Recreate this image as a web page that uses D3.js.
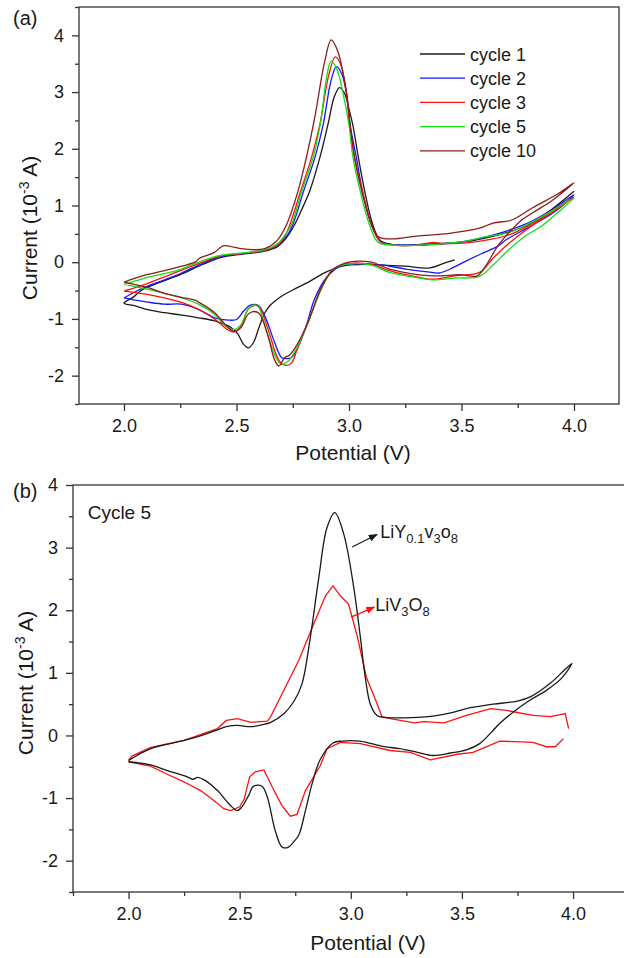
<!DOCTYPE html>
<html>
<head>
<meta charset="utf-8">
<script src="https://cdn.jsdelivr.net/npm/d3@7"></script>
<style>
    body { margin: 0; background: #fff; }
    svg text { font-family: "Liberation Sans", Arial, sans-serif; fill: #1a1a1a; }
</style>
</head>
<body>
<div id="chart"></div>
<script>
// ---- data (potential V, current 10^-3 A) ----

const potentialTicks = [2.0, 2.5, 3.0, 3.5, 4.0];
const potentialMinorA = [2.25, 2.75, 3.25, 3.75];
const potentialMinorB = [1.75, 2.25, 2.75, 3.25, 3.75];
const currentTicks = [-2, -1, 0, 1, 2, 3, 4];
const currentMinorA = [-2.5, -1.5, -0.5, 0.5, 1.5, 2.5, 3.5, 4.5];
const currentMinorB = [-2.5, -1.5, -0.5, 0.5, 1.5, 2.5, 3.5];

const cycleLabels = ["cycle 1", "cycle 2", "cycle 3", "cycle 5", "cycle 10"];

const cycle1 = [[3.47,0.04],[3.42,-0.02],[3.36,-0.10],[3.25,-0.07],[3.15,-0.05],[3.05,-0.04],[2.98,-0.06],[2.9,-0.17],[2.82,-0.35],[2.75,-0.49],[2.7,-0.6],[2.65,-0.76],[2.625,-0.9],[2.6,-1.15],[2.575,-1.42],[2.553,-1.51],[2.53,-1.44],[2.505,-1.26],[2.475,-1.15],[2.45,-1.1],[2.4,-1.03],[2.33,-0.98],[2.25,-0.93],[2.18,-0.89],[2.11,-0.84],[2.05,-0.77],[2.0,-0.72],
    [2.04,-0.62],[2.08,-0.49],[2.15,-0.37],[2.25,-0.22],[2.35,-0.04],[2.43,0.08],[2.52,0.14],[2.62,0.19],[2.68,0.27],[2.72,0.42],[2.758,0.66],[2.79,0.93],[2.825,1.25],[2.87,1.84],[2.906,2.42],[2.935,2.92],[2.958,3.08],[2.98,2.98],[3.0,2.7],[3.017,2.42],[3.042,1.84],[3.07,1.25],[3.106,0.66],[3.14,0.38],[3.2,0.31],[3.3,0.30],[3.4,0.32],[3.5,0.35],[3.6,0.42],[3.7,0.52],[3.8,0.67],[3.9,0.93],[4.0,1.25]];

const cycle2 = [[2.0,-0.63],[2.05,-0.52],[2.1,-0.43],[2.18,-0.31],[2.256,-0.19],[2.35,-0.02],[2.43,0.10],[2.52,0.15],[2.626,0.21],[2.68,0.29],[2.72,0.44],[2.75,0.66],[2.798,1.25],[2.848,1.84],[2.885,2.42],[2.92,3.2],[2.944,3.45],[2.968,3.32],[2.99,2.95],[3.005,2.42],[3.033,1.84],[3.06,1.25],[3.10,0.66],[3.14,0.36],[3.2,0.31],[3.3,0.31],[3.4,0.33],[3.5,0.36],[3.6,0.44],[3.7,0.55],[3.8,0.7],[3.9,0.92],[4.0,1.19],
    [3.95,1.0],[3.9,0.85],[3.8,0.62],[3.7,0.40],[3.66,0.28],[3.6,0.17],[3.52,0.02],[3.45,-0.12],[3.40,-0.19],[3.35,-0.17],[3.25,-0.12],[3.15,-0.05],[3.05,-0.03],[2.97,-0.05],[2.9,-0.27],[2.847,-0.65],[2.81,-1.12],[2.77,-1.53],[2.744,-1.68],[2.72,-1.70],[2.70,-1.68],[2.67,-1.42],[2.626,-0.95],[2.596,-0.76],[2.559,-0.76],[2.53,-0.87],[2.5,-1.01],[2.463,-1.02],[2.403,-0.98],[2.33,-0.83],[2.256,-0.74],[2.18,-0.74],[2.1,-0.70],[2.05,-0.67],[2.0,-0.63]];

const cycle3 = [[2.0,-0.51],[2.05,-0.45],[2.1,-0.38],[2.18,-0.26],[2.256,-0.14],[2.35,0.0],[2.43,0.11],[2.52,0.15],[2.626,0.21],[2.68,0.3],[2.71,0.42],[2.737,0.66],[2.785,1.25],[2.833,1.84],[2.87,2.42],[2.91,3.3],[2.939,3.62],[2.962,3.5],[2.988,3.0],[3.003,2.42],[3.025,1.84],[3.06,1.25],[3.10,0.66],[3.14,0.36],[3.2,0.30],[3.3,0.30],[3.37,0.35],[3.42,0.33],[3.52,0.34],[3.61,0.39],[3.71,0.48],[3.8,0.65],[3.9,0.9],[4.0,1.15],
    [3.92,0.92],[3.84,0.72],[3.77,0.52],[3.71,0.33],[3.64,0.07],[3.58,-0.18],[3.47,-0.24],[3.37,-0.30],[3.3,-0.26],[3.18,-0.15],[3.1,-0.04],[3.0,-0.02],[2.93,-0.12],[2.877,-0.47],[2.818,-1.06],[2.77,-1.53],[2.744,-1.78],[2.72,-1.82],[2.69,-1.74],[2.64,-1.18],[2.60,-0.78],[2.58,-0.76],[2.551,-0.83],[2.52,-1.13],[2.49,-1.23],[2.465,-1.2],[2.403,-1.0],[2.33,-0.83],[2.256,-0.71],[2.18,-0.63],[2.108,-0.57],[2.0,-0.51]];

const cycle5 = [[2.0,-0.39],[2.05,-0.33],[2.1,-0.27],[2.18,-0.2],[2.256,-0.12],[2.35,0.03],[2.43,0.12],[2.52,0.16],[2.626,0.22],[2.68,0.32],[2.71,0.45],[2.744,0.66],[2.79,1.25],[2.84,1.84],[2.875,2.5],[2.90,3.25],[2.921,3.55],[2.948,3.38],[2.975,2.95],[3.0,2.42],[3.018,1.84],[3.05,1.25],[3.091,0.66],[3.13,0.35],[3.2,0.30],[3.3,0.30],[3.4,0.32],[3.52,0.37],[3.61,0.45],[3.71,0.52],[3.8,0.68],[3.9,0.9],[4.0,1.13],
    [3.92,0.85],[3.85,0.62],[3.79,0.48],[3.71,0.22],[3.64,-0.05],[3.58,-0.25],[3.47,-0.28],[3.37,-0.31],[3.3,-0.27],[3.18,-0.18],[3.1,-0.05],[3.0,-0.03],[2.93,-0.12],[2.877,-0.47],[2.818,-1.06],[2.77,-1.5],[2.73,-1.74],[2.70,-1.80],[2.675,-1.68],[2.625,-1.1],[2.596,-0.78],[2.57,-0.76],[2.551,-0.83],[2.52,-1.10],[2.487,-1.19],[2.45,-1.12],[2.403,-0.92],[2.33,-0.74],[2.256,-0.63],[2.18,-0.55],[2.108,-0.48],[2.0,-0.39]];

const cycle10 = [[2.0,-0.35],[2.05,-0.28],[2.1,-0.22],[2.18,-0.15],[2.256,-0.07],[2.32,0.01],[2.335,0.07],[2.4,0.17],[2.44,0.29],[2.47,0.28],[2.52,0.24],[2.58,0.22],[2.626,0.24],[2.68,0.38],[2.722,0.66],[2.773,1.25],[2.81,1.84],[2.85,2.6],[2.89,3.5],[2.921,3.92],[2.95,3.72],[2.988,3.01],[3.005,2.42],[3.025,1.84],[3.06,1.2],[3.10,0.66],[3.13,0.45],[3.19,0.41],[3.30,0.46],[3.446,0.51],[3.58,0.60],[3.64,0.69],[3.72,0.74],[3.816,0.96],[3.934,1.22],[4.0,1.40],
    [3.9,1.08],[3.82,0.88],[3.76,0.72],[3.72,0.56],[3.66,0.28],[3.61,-0.05],[3.57,-0.24],[3.49,-0.22],[3.37,-0.24],[3.18,-0.12],[3.1,0.0],[3.0,0.0],[2.93,-0.13],[2.877,-0.45],[2.818,-1.06],[2.77,-1.45],[2.735,-1.64],[2.715,-1.68],[2.688,-1.83],[2.668,-1.71],[2.64,-1.30],[2.60,-0.9],[2.574,-0.87],[2.551,-0.92],[2.52,-1.15],[2.487,-1.22],[2.45,-1.1],[2.403,-0.89],[2.33,-0.70],[2.315,-0.67],[2.256,-0.62],[2.18,-0.55],[2.108,-0.45],[2.0,-0.35]];

// panel (b), cycle 5 of both materials
const yDopedCycle5 = [[2.0,-0.40],[2.1,-0.21],[2.25,-0.08],[2.33,0.0],[2.4,0.09],[2.44,0.14],[2.49,0.16],[2.55,0.14],[2.6,0.17],[2.64,0.21],[2.7,0.35],[2.745,0.55],[2.78,0.82],[2.818,1.57],[2.856,2.52],[2.893,3.32],[2.928,3.56],[2.968,3.22],[3.013,2.37],[3.043,1.57],[3.065,0.93],[3.088,0.5],[3.118,0.32],[3.15,0.29],[3.3,0.29],[3.37,0.31],[3.45,0.36],[3.52,0.43],[3.64,0.5],[3.75,0.55],[3.81,0.62],[3.9,0.84],[3.96,1.04],[3.995,1.15],
    [3.95,0.92],[3.88,0.72],[3.8,0.55],[3.73,0.37],[3.67,0.19],[3.64,0.08],[3.58,-0.13],[3.52,-0.23],[3.45,-0.28],[3.37,-0.32],[3.3,-0.27],[3.22,-0.21],[3.15,-0.18],[3.04,-0.09],[2.96,-0.09],[2.92,-0.12],[2.863,-0.38],[2.826,-0.77],[2.796,-1.20],[2.766,-1.59],[2.743,-1.70],[2.715,-1.79],[2.69,-1.78],[2.66,-1.52],[2.624,-0.98],[2.60,-0.81],[2.563,-0.81],[2.54,-0.96],[2.51,-1.14],[2.489,-1.20],[2.459,-1.12],[2.40,-0.88],[2.34,-0.71],[2.31,-0.67],[2.29,-0.70],[2.264,-0.66],[2.174,-0.56],[2.099,-0.47],[2.0,-0.42]];

// the reference trace has a break at the 4 V end (null = gap)
const pureCycle5 = [[2.0,-0.40],[2.015,-0.33],[2.1,-0.19],[2.25,-0.08],[2.33,0.02],[2.40,0.11],[2.44,0.24],[2.49,0.27],[2.55,0.21],[2.624,0.23],[2.638,0.29],[2.683,0.61],[2.766,1.20],[2.833,1.78],[2.886,2.23],[2.92,2.39],[2.953,2.23],[2.99,2.10],[3.03,1.57],[3.07,0.93],[3.118,0.51],[3.14,0.30],[3.19,0.26],[3.286,0.20],[3.33,0.22],[3.42,0.20],[3.52,0.32],[3.63,0.43],[3.7,0.40],[3.82,0.32],[3.90,0.30],[3.965,0.35],[3.98,0.11],
    null,
    [3.957,-0.05],[3.92,-0.18],[3.88,-0.18],[3.82,-0.11],[3.67,-0.09],[3.55,-0.27],[3.48,-0.30],[3.358,-0.39],[3.268,-0.27],[3.178,-0.24],[3.043,-0.13],[2.953,-0.11],[2.893,-0.21],[2.863,-0.48],[2.833,-0.66],[2.796,-0.88],[2.758,-1.26],[2.728,-1.29],[2.69,-1.12],[2.646,-0.82],[2.609,-0.55],[2.57,-0.58],[2.545,-0.66],[2.52,-1.02],[2.5,-1.14],[2.459,-1.20],[2.429,-1.17],[2.384,-1.04],[2.324,-0.88],[2.249,-0.74],[2.174,-0.62],[2.099,-0.49],[2.0,-0.42]];

const cycleColors = ["#1a1a1a", "#1515ff", "#ff1010", "#10e010", "#8b1c1c"];


class CvPanel {

    constructor(svg, cfg) {
        this.svg = svg;
        this.cfg = cfg;

        this.initVis();
    }

    initVis() {
        let vis = this;
        let c = vis.cfg;

        vis.g = vis.svg.append("g");

        vis.x = d3.scaleLinear()
            .domain(c.xDomain)
            .range([c.left, c.right]);

        vis.y = d3.scaleLinear()
            .domain(c.yDomain)
            .range([c.bottom, c.top]);

        // box round the plot
        vis.g.append("rect")
            .attr("x", c.left)
            .attr("y", c.top)
            .attr("width", c.right - c.left)
            .attr("height", c.bottom - c.top)
            .attr("fill", "none")
            .attr("stroke", "#333")
            .attr("stroke-width", 1.3);

        vis.drawAxis(d3.axisBottom(vis.x).tickValues(potentialTicks).tickSize(7).tickPadding(8).tickFormat(d3.format(".1f")), `translate(0,${c.bottom})`);
        vis.drawAxis(d3.axisBottom(vis.x).tickValues(c.xMinor).tickSize(4).tickFormat(""), `translate(0,${c.bottom})`);
        vis.drawAxis(d3.axisLeft(vis.y).tickValues(currentTicks).tickSize(7).tickPadding(8).tickFormat(d => String(d)), `translate(${c.left},0)`);
        vis.drawAxis(d3.axisLeft(vis.y).tickValues(c.yMinor).tickSize(4).tickFormat(""), `translate(${c.left},0)`);

        // axis titles
        vis.g.append("text")
            .attr("x", c.xTitle[0])
            .attr("y", c.xTitle[1])
            .attr("text-anchor", "middle")
            .style("font-size", "21px")
            .text("Potential (V)");

        let yt = vis.g.append("text")
            .attr("transform", `translate(${c.yTitle[0]},${c.yTitle[1]}) rotate(-90)`)
            .attr("text-anchor", "middle")
            .style("font-size", "21px");
        yt.append("tspan").text("Current (10");
        yt.append("tspan").attr("dy", -8).style("font-size", "14px").text("-3");
        yt.append("tspan").attr("dy", 8).text(" A)");

        vis.g.append("text")
            .attr("x", c.panelLabel[0])
            .attr("y", c.panelLabel[1])
            .style("font-size", "20px")
            .text(c.name);

        vis.line = d3.line()
            .defined(d => d != null)
            .x(d => vis.x(d[0]))
            .y(d => vis.y(d[1]));

        vis.updateVis();
    }

    drawAxis(axis, transform) {
        let vis = this;
        let g = vis.g.append("g")
            .attr("transform", transform)
            .call(axis.tickSizeOuter(0));
        g.select(".domain").remove();
        g.attr("font-family", null).attr("font-size", null);
        g.selectAll("line").attr("stroke", "#333").attr("stroke-width", 1.3);
        g.selectAll("text").style("font-size", "18px").attr("fill", "#1a1a1a");
    }

    updateVis() {
        let vis = this;

        vis.g.selectAll(".cv")
            .data(vis.cfg.series)
            .enter()
            .append("path")
            .attr("class", "cv")
            .attr("fill", "none")
            .attr("stroke", d => d.color)
            .attr("stroke-width", 1.3)
            .attr("d", d => vis.line.curve(d.curve || d3.curveCatmullRom.alpha(0.5))(d.values));
    }
}

let svg = d3.select("#chart").append("svg")
    .attr("width", 624)
    .attr("height", 958);

let defs = svg.append("defs");
["#1a1a1a", "#ff1010"].forEach((col, i) => {
    defs.append("marker")
        .attr("id", "arrow" + i)
        .attr("viewBox", "0 0 10 10")
        .attr("refX", 9).attr("refY", 5)
        .attr("markerWidth", 9).attr("markerHeight", 9)
        .attr("markerUnits", "userSpaceOnUse")
        .attr("orient", "auto")
        .append("path")
        .attr("d", "M0,1 L10,5 L0,9 Z")
        .attr("fill", col);
});

let panelA = new CvPanel(svg, {
    name: "(a)",
    left: 79, right: 619, top: 7, bottom: 404,
    xDomain: [1.8, 4.2], yDomain: [-2.5, 4.5],
    xMinor: potentialMinorA, yMinor: currentMinorA,
    xTitle: [353, 460], yTitle: [37, 228], panelLabel: [13, 25],
    series: [cycle1, cycle2, cycle3, cycle5, cycle10].map((v, i) => ({values: v, color: cycleColors[i]}))
});

// legend of (a)
let legend = panelA.g.append("g").attr("transform", "translate(420,54)");
cycleLabels.forEach((lab, i) => {
    legend.append("line")
        .attr("x1", 0).attr("x2", 45)
        .attr("y1", i * 24.2).attr("y2", i * 24.2)
        .attr("stroke", cycleColors[i])
        .attr("stroke-width", 1.3);
    legend.append("text")
        .attr("x", 50)
        .attr("y", i * 24.2 + 6.5)
        .style("font-size", "18px")
        .text(lab);
});

// right edge of (b) frame lies outside the picture
let panelB = new CvPanel(svg, {
    name: "(b)",
    left: 73, right: 628.6, top: 485, bottom: 892,
    xDomain: [1.75, 4.25], yDomain: [-2.5, 4],
    xMinor: potentialMinorB, yMinor: currentMinorB,
    xTitle: [368, 950], yTitle: [33, 683], panelLabel: [13, 498],
    series: [
        {values: pureCycle5, color: "#ff1010", curve: d3.curveLinear},
        {values: yDopedCycle5, color: "#1a1a1a"}
    ]
});

panelB.g.append("text")
    .attr("x", panelB.x(1.816))
    .attr("y", panelB.y(3.46))
    .style("font-size", "19px")
    .text("Cycle 5");

// arrows + compound names
panelB.g.append("line")
    .attr("x1", panelB.x(3.006)).attr("y1", panelB.y(3.01))
    .attr("x2", panelB.x(3.118)).attr("y2", panelB.y(3.21))
    .attr("stroke", "#1a1a1a").attr("stroke-width", 1.3)
    .attr("marker-end", "url(#arrow0)");

panelB.g.append("line")
    .attr("x1", panelB.x(3.001)).attr("y1", panelB.y(1.89))
    .attr("x2", panelB.x(3.106)).attr("y2", panelB.y(2.05))
    .attr("stroke", "#ff1010").attr("stroke-width", 1.3)
    .attr("marker-end", "url(#arrow1)");

let t1 = panelB.g.append("text")
    .attr("x", panelB.x(3.133))
    .attr("y", panelB.y(3.16))
    .style("font-size", "18px");
t1.append("tspan").text("LiY");
t1.append("tspan").attr("dy", 5).style("font-size", "13px").text("0.1");
t1.append("tspan").attr("dy", -5).text("v");
t1.append("tspan").attr("dy", 5).style("font-size", "13px").text("3");
t1.append("tspan").attr("dy", -5).text("o");
t1.append("tspan").attr("dy", 5).style("font-size", "13px").text("8");

let t2 = panelB.g.append("text")
    .attr("x", panelB.x(3.11))
    .attr("y", panelB.y(1.99))
    .style("font-size", "18px");
t2.append("tspan").text("LiV");
t2.append("tspan").attr("dy", 5).style("font-size", "13px").text("3");
t2.append("tspan").attr("dy", -5).text("O");
t2.append("tspan").attr("dy", 5).style("font-size", "13px").text("8");

</script>
</body>
</html>
